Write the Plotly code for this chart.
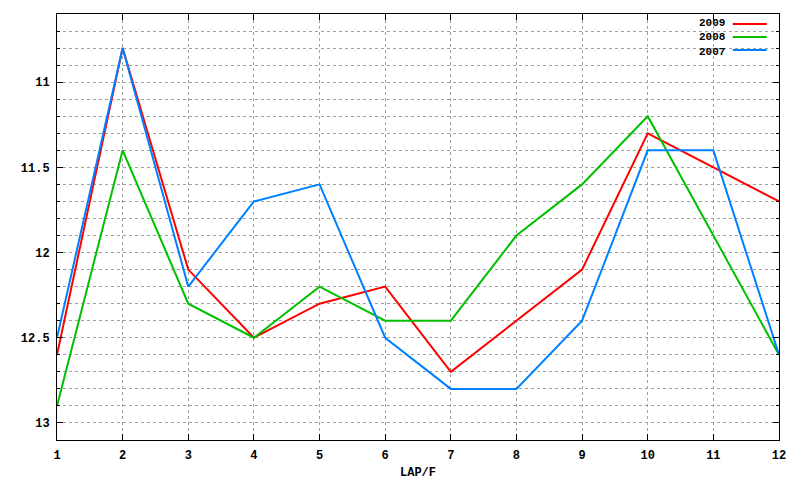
import plotly.graph_objects as go

laps = [1, 2, 3, 4, 5, 6, 7, 8, 9, 10, 11, 12]
s2009 = [12.6, 10.8, 12.1, 12.5, 12.3, 12.2, 12.7, 12.4, 12.1, 11.3, 11.5, 11.7]
s2008 = [12.9, 11.4, 12.3, 12.5, 12.2, 12.4, 12.4, 11.9, 11.6, 11.2, 11.9, 12.6]
s2007 = [12.5, 10.8, 12.2, 11.7, 11.6, 12.5, 12.8, 12.8, 12.4, 11.4, 11.4, 12.6]
names = ["2009", "2008", "2007"]
colors = ["#ff0000", "#00c000", "#0080ff"]
y_ticks = [11, 11.5, 12, 12.5, 13]
y_labels = ["11", "11.5", "12", "12.5", "13"]

FONT = "Liberation Mono"

fig = go.Figure()
for name, vals, col in zip(names, [s2009, s2008, s2007], colors):
    fig.add_trace(go.Scatter(x=laps, y=vals, mode="lines", name=name,
                             line=dict(color=col, width=2), showlegend=False))

# legend drawn gnuplot-style: text then line
ly = [0.9765, 0.946, 0.9155]
fig.add_annotation(xref="paper", yref="paper", x=0.929, y=0.946,
                   text="<br>".join("<b>%s</b>" % n for n in names),
                   showarrow=False, xanchor="right", yanchor="middle", align="right",
                   font=dict(family=FONT, size=11, color="black"))
for col, yy in zip(colors, ly):
    fig.add_shape(type="line", xref="paper", yref="paper", x0=0.936, x1=0.983, y0=yy, y1=yy,
                  line=dict(color=col, width=2))

grid = dict(showgrid=True, gridcolor="#a0a0a0", griddash="dot", gridwidth=1)

fig.update_layout(
    width=800, height=480,
    margin=dict(l=57, r=21, t=14, b=40, autoexpand=False),
    paper_bgcolor="white", plot_bgcolor="white",
    font=dict(family=FONT, size=12, color="black"),
    xaxis=dict(range=[1, 12], tickmode="array", tickvals=laps,
               ticktext=["<b>%d</b>" % v for v in laps],
               ticks="inside", ticklen=6, tickcolor="black", mirror="ticks",
               showline=True, linecolor="black", linewidth=1, zeroline=False,
               automargin=False, ticklabelstandoff=4,
               title=dict(text="<b>LAP/F</b>", standoff=6, font=dict(family=FONT, size=12)),
               **grid),
    yaxis=dict(range=[13.1, 10.6], tickmode="array", tickvals=y_ticks,
               ticktext=["<b>%s</b>" % t for t in y_labels],
               ticks="inside", ticklen=6, tickcolor="black", mirror="ticks",
               showline=True, linecolor="black", linewidth=1, zeroline=False,
               automargin=False, ticklabelstandoff=4,
               minor=dict(dtick=0.1, tick0=10, ticks="inside", ticklen=3, tickcolor="black",
                          showgrid=True, gridcolor="#a0a0a0", griddash="dot", gridwidth=1),
               **grid),
)

fig.write_html("out.html", config={"displayModeBar": False},
               post_script="document.body.style.margin='0';")
